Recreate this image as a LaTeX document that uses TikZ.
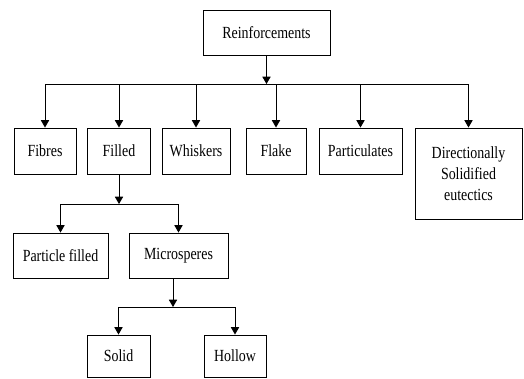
\documentclass[tikz,border=0pt]{standalone}
\usepackage{fontspec}
\setmainfont[FakeStretch=0.82]{Liberation Serif}
\usetikzlibrary{arrows}

\begin{document}
\begin{tikzpicture}[x=1pt,y=-1pt]
\tikzstyle{nodo caja}=[draw,line width=1pt,inner sep=0pt,align=center,font=\fontsize{17}{21}\selectfont]
\tikzstyle{flecha}=[line width=1pt,-triangle 60]
\useasboundingbox (0,0) rectangle (524,378);

\node[nodo caja,minimum width=127,minimum height=45] (reinf) at (266.5,32.5) {Reinforcements};
\node[nodo caja,minimum width=62,minimum height=46] (fibres) at (45,151) {Fibres};
\node[nodo caja,minimum width=63,minimum height=46] (filled) at (119,151) {Filled};
\node[nodo caja,minimum width=68,minimum height=46] (whiskers) at (196,151) {Whiskers};
\node[nodo caja,minimum width=60,minimum height=46] (flake) at (276,151) {Flake};
\node[nodo caja,minimum width=83,minimum height=46] (partic) at (360.5,151) {Particulates};
\node[nodo caja,minimum width=107,minimum height=91] (direct) at (468.5,173.5) {Directionally\\Solidified\\eutectics};
\node[nodo caja,minimum width=95,minimum height=45] (partfill) at (60.5,255.5) {Particle filled};
\node[nodo caja,minimum width=99,minimum height=45] (micro) at (178.5,255.5) {Microsperes};
\node[nodo caja,minimum width=63,minimum height=42] (solid) at (118.5,356) {Solid};
\node[nodo caja,minimum width=62,minimum height=42] (hollow) at (235,356) {Hollow};

\coordinate (barra1) at (266.5,84);
\coordinate (barra2) at (119,204);
\coordinate (barra3) at (173,307);

\draw [flecha] (reinf) -- (barra1);
\draw [line width=1pt] (fibres |- barra1) -- (direct |- barra1);
\draw [flecha] (fibres |- barra1) -- (fibres.north);
\draw [flecha] (filled |- barra1) -- (filled.north);
\draw [flecha] (whiskers |- barra1) -- (whiskers.north);
\draw [flecha] (flake |- barra1) -- (flake.north);
\draw [flecha] (partic |- barra1) -- (partic.north);
\draw [flecha] (direct |- barra1) -- (direct.north);

\draw [flecha] (filled) -- (barra2);
\draw [line width=1pt] (partfill |- barra2) -- (micro |- barra2);
\draw [flecha] (partfill |- barra2) -- (partfill.north);
\draw [flecha] (micro |- barra2) -- (micro.north);

\draw [flecha] (micro.south -| barra3) -- (barra3);
\draw [line width=1pt] (solid |- barra3) -- (hollow |- barra3);
\draw [flecha] (solid |- barra3) -- (solid.north);
\draw [flecha] (hollow |- barra3) -- (hollow.north);
\end{tikzpicture}
\end{document}
